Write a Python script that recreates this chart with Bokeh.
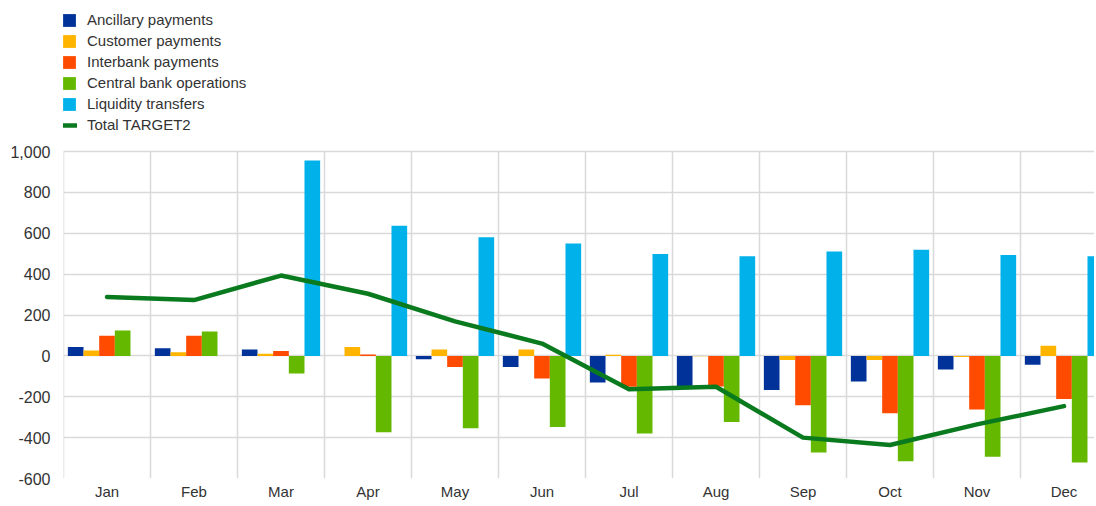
from bokeh.plotting import figure
from bokeh.models import (ColumnDataSource, Range1d, FixedTicker, NumeralTickFormatter,
                          Legend, LegendItem)
from bokeh.transform import dodge
from bokeh.embed import file_html
from bokeh.resources import INLINE

months = ["Jan", "Feb", "Mar", "Apr", "May", "Jun", "Jul", "Aug", "Sep", "Oct", "Nov", "Dec"]
ancillary = [44, 37, 31, 0, -16, -55, -130, -150, -167, -125, -67, -44]
customer = [26, 18, 11, 44, 31, 31, 5, -2, -20, -20, -5, 50]
interbank = [99, 99, 24, 7, -55, -111, -151, -150, -242, -281, -262, -211]
central_bank = [124, 119, -86, -374, -354, -348, -380, -324, -473, -515, -493, -522]
liquidity = [0, 0, 956, 637, 580, 550, 499, 488, 511, 519, 494, 488]
total = [288, 273, 393, 304, 169, 60, -163, -151, -400, -436, -335, -246]
y_ticks = [-600, -400, -200, 0, 200, 400, 600, 800, 1000]

series = [
    ("Ancillary payments", "ancillary", ancillary, "#003299"),
    ("Customer payments", "customer", customer, "#ffb400"),
    ("Interbank payments", "interbank", interbank, "#ff4b00"),
    ("Central bank operations", "central", central_bank, "#65b800"),
    ("Liquidity transfers", "liquidity", liquidity, "#00b1ea"),
]

xpos = [i + 0.5 for i in range(len(months))]
data = dict(x=xpos, total=total)
for _, key, vals, _c in series:
    data[key] = vals
src = ColumnDataSource(data)

FONT = "Liberation Sans"

ymin, ymax = y_ticks[0], y_ticks[-1]
FRAME_H = 478          # frame spans the legend area too
PLOT_H = 327           # pixel height of the -600..1000 band
y_top = ymin + (ymax - ymin) * FRAME_H / PLOT_H

p = figure(frame_width=1031, frame_height=FRAME_H, output_backend="svg", toolbar_location=None,
           x_range=Range1d(0, 1031 / 87.0), y_range=Range1d(ymin, y_top),
           min_border_left=63, min_border_top=0, min_border_bottom=20, min_border_right=0)
p.outline_line_color = None
p.background_fill_color = "white"

# vertical category separators (limited to the value band)
bounds = list(range(0, len(months) + 1))
p.segment(x0=bounds, y0=[ymin] * len(bounds), x1=bounds, y1=[ymax] * len(bounds),
          line_color="#d9d9d9", line_width=1.5, level="underlay")

bw = 0.18
offsets = [-0.36, -0.18, 0.0, 0.18, 0.36]
renderers = []
for (label, key, vals, color), off in zip(series, offsets):
    r = p.vbar(x=dodge("x", off, range=p.x_range), top=key, bottom=0, width=bw, source=src,
               fill_color=color, line_color=None)
    renderers.append((label, r))

ln = p.line(x="x", y="total", source=src, line_color="#0a7a1e", line_width=4.5,
            line_join="round", line_cap="round")
renderers.append(("Total TARGET2", ln))

# axes
p.xaxis.ticker = FixedTicker(ticks=xpos)
p.xaxis.major_label_overrides = {x: m for x, m in zip(xpos, months)}
p.yaxis.ticker = FixedTicker(ticks=y_ticks)
p.yaxis.formatter = NumeralTickFormatter(format="0,0")
for ax in (p.xaxis[0], p.yaxis[0]):
    ax.axis_line_color = None
    ax.major_tick_line_color = None
    ax.minor_tick_line_color = None
    ax.major_tick_in = 0
    ax.major_tick_out = 0
    ax.major_label_text_font = FONT
    ax.major_label_text_color = "#333333"
p.xaxis.major_label_text_font_size = "15px"
p.yaxis.major_label_text_font_size = "16px"
p.xaxis.major_label_standoff = 4
p.yaxis.major_label_standoff = 13

p.xgrid.grid_line_color = None
p.ygrid.grid_line_color = "#d9d9d9"
p.ygrid.grid_line_width = 1.5

legend = Legend(items=[LegendItem(label=l, renderers=[r]) for l, r in renderers],
                location=(-2, 345), orientation="vertical",
                glyph_width=16, glyph_height=16, label_standoff=10, spacing=4,
                padding=0, margin=0, border_line_color=None, background_fill_alpha=0,
                label_text_font=FONT, label_text_font_size="15px", label_text_color="#333333",
                label_height=13)
p.add_layout(legend, "center")

open("out.html", "w").write(file_html(p, INLINE))
